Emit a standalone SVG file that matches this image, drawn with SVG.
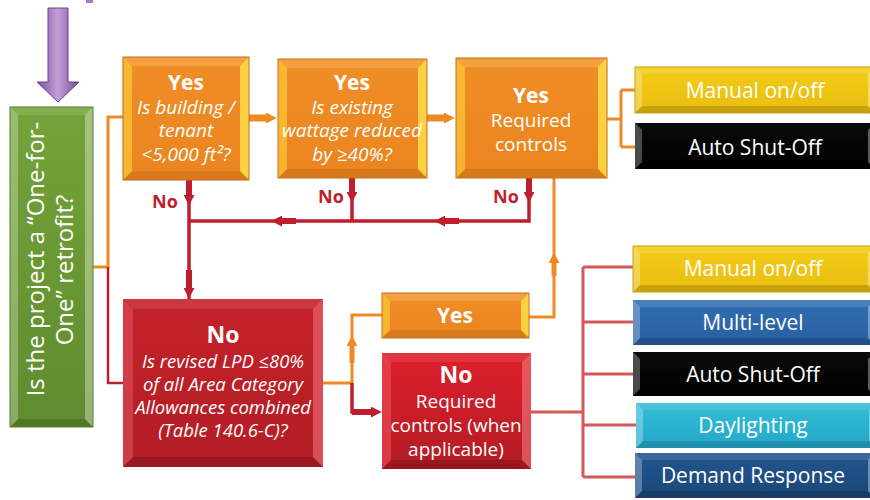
<svg xmlns="http://www.w3.org/2000/svg" width="870" height="500" viewBox="0 0 870 500">
<defs>
<style>
.t{font-family:"Open Sans","Noto Sans","Liberation Sans",sans-serif;fill:#fff;text-anchor:middle}
.b{font-weight:bold}
.i{font-style:italic}
.no{font-family:"Open Sans","Noto Sans","Liberation Sans",sans-serif;font-weight:bold;fill:#BE1E2D;font-size:18px}
.bt{fill:#fff;opacity:.12}
.bb{fill:#000;opacity:.15}
.bl{fill:#fff;opacity:.28}
.br{fill:#fff;opacity:.35}
.oy{fill:#FFD43A;opacity:.6}
.oyr{fill:#FFE24A;opacity:.8}
.edge{fill:none;stroke-width:1}
.co{fill:none;stroke:#EE8A24;stroke-width:3}
.cr{fill:none;stroke:#BE1E2D;stroke-width:3.5}
.cs{fill:none;stroke:#D4575A;stroke-width:3}
.tkO{fill:none;stroke:#EE8A24;stroke-width:6;marker-end:url(#aO)}
.tkR{fill:none;stroke:#BE1E2D;stroke-width:6;marker-end:url(#aR)}
</style>
<linearGradient id="gO" x1="0" y1="0" x2="0" y2="1"><stop offset="0" stop-color="#F08E26"/><stop offset="1" stop-color="#EA8420"/></linearGradient>
<linearGradient id="gR" x1="0" y1="0" x2="0" y2="1"><stop offset="0" stop-color="#C4212A"/><stop offset="1" stop-color="#B31D25"/></linearGradient>
<linearGradient id="gR2" x1="0" y1="0" x2="0" y2="1"><stop offset="0" stop-color="#DF1F2B"/><stop offset="1" stop-color="#B21C25"/></linearGradient>
<linearGradient id="gG" x1="0" y1="0" x2="0" y2="1"><stop offset="0" stop-color="#74A33A"/><stop offset="1" stop-color="#5F8C2E"/></linearGradient>
<linearGradient id="gY" x1="0" y1="0" x2="0" y2="1"><stop offset="0" stop-color="#F4CC17"/><stop offset="1" stop-color="#E9BD10"/></linearGradient>
<linearGradient id="gB" x1="0" y1="0" x2="0" y2="1"><stop offset="0" stop-color="#316FB3"/><stop offset="1" stop-color="#285FA0"/></linearGradient>
<linearGradient id="gC" x1="0" y1="0" x2="0" y2="1"><stop offset="0" stop-color="#33BCD8"/><stop offset="1" stop-color="#24A9C8"/></linearGradient>
<linearGradient id="gD" x1="0" y1="0" x2="0" y2="1"><stop offset="0" stop-color="#22558F"/><stop offset="1" stop-color="#1A4778"/></linearGradient>
<linearGradient id="gK" x1="0" y1="0" x2="0" y2="1"><stop offset="0" stop-color="#0A0A0A"/><stop offset="1" stop-color="#000"/></linearGradient>
<linearGradient id="gP" x1="0" y1="0" x2="1" y2="0"><stop offset="0" stop-color="#7E4E9E"/><stop offset=".5" stop-color="#C3A0D6"/><stop offset="1" stop-color="#7A4A9A"/></linearGradient>
<marker id="aO" viewBox="0 0 10 10" refX="2" refY="5" markerWidth="11" markerHeight="11" markerUnits="userSpaceOnUse" orient="auto"><path d="M0,0L10,5L0,10z" fill="#EE8A24"/></marker>
<marker id="aR" viewBox="0 0 10 10" refX="2" refY="5" markerWidth="11" markerHeight="11" markerUnits="userSpaceOnUse" orient="auto"><path d="M0,0L10,5L0,10z" fill="#BE1E2D"/></marker>
</defs>
<rect width="870" height="500" fill="#fff"/>

<g id="start-arrow">
<rect x="86" y="0" width="7" height="3" fill="#A67BC0"/>
<path d="M48,8H68V82H79L58,102L37,82H48Z" fill="url(#gP)" stroke="#6E3F8E" stroke-width="1"/>
</g>

<g id="connectors">
<path class="co" d="M93,267H108V117H123"/>
<path class="cr" style="stroke-width:2.5" d="M108,267V383H123"/>
<path class="tkO" style="stroke-width:7" d="M249,118H268"/>
<path class="tkO" style="stroke-width:7" d="M427,118H446"/>
<path class="co" d="M607,119H621M621,90V147M621,90H635M621,147H635"/>
<path class="cr" d="M189,180V299"/>
<path class="tkR" d="M189,180V197"/>
<path class="tkR" d="M189,270V290"/>
<path class="cr" d="M352,178V221"/>
<path class="tkR" d="M352,178V194"/>
<path class="cr" d="M529,178V221H189"/>
<path class="tkR" d="M529,178V194"/>
<path class="tkR" d="M296,221H280"/>
<path class="tkR" d="M459,221H443"/>
<path class="co" d="M554,178V317H529"/>
<path class="tkO" style="stroke-width:5" d="M554,276V261"/>
<path class="co" d="M323,383H352V315H382"/>
<path class="tkO" style="stroke-width:5" d="M352,363V344"/>
<path class="cr" d="M352,383V412H373"/>
<path class="tkR" d="M352,412H373"/>
<path class="cs" d="M531,412H583M583,267V477M583,267H633M583,322H633M583,374H633M583,425H636M583,477H635"/>
</g>

<g id="no-labels">
<text class="no" x="152" y="208">No</text>
<text class="no" x="318" y="203">No</text>
<text class="no" x="493" y="203">No</text>
</g>

<g id="green" transform="translate(10,107)">
<rect width="83" height="320" fill="url(#gG)"/>
<polygon class="bt" points="0,0 83,0 75,8 8,8"/><polygon class="bb" points="0,320 83,320 75,312 8,312"/>
<polygon class="bl" points="0,0 8,8 8,312 0,320"/><polygon class="br" points="83,0 75,8 75,312 83,320"/>
<rect width="83" height="320" class="edge" stroke="#557E28"/>
<text class="t" transform="rotate(-90)" x="-152" y="34" font-size="24">Is the project a “One-for-</text>
<text class="t" transform="rotate(-90)" x="-163" y="63" font-size="24">One” retrofit?</text>
</g>

<g id="b1" transform="translate(123,57)">
<rect width="126" height="123" fill="url(#gO)"/>
<polygon fill="#F3A040" points="0,0 126,0 117,9 9,9"/><polygon fill="#D87A1C" points="0,123 126,123 117,114 9,114"/>
<polygon class="oy" points="0,0 9,9 9,114 0,123"/><polygon class="oyr" points="126,0 117,9 117,114 126,123"/>
<rect width="126" height="123" class="edge" stroke="#C26D1A"/>
<text class="t b" x="63" y="33" font-size="21">Yes</text>
<text class="t i" x="63" y="57" font-size="19">Is building /</text>
<text class="t i" x="63" y="80" font-size="19">tenant</text>
<text class="t i" x="63" y="104" font-size="19">&lt;5,000 ft²?</text>
</g>

<g id="b2" transform="translate(278,59)">
<rect width="149" height="119" fill="url(#gO)"/>
<polygon fill="#F3A040" points="0,0 149,0 140,9 9,9"/><polygon fill="#D87A1C" points="0,119 149,119 140,110 9,110"/>
<polygon class="oy" points="0,0 9,9 9,110 0,119"/><polygon class="oyr" points="149,0 140,9 140,110 149,119"/>
<rect width="149" height="119" class="edge" stroke="#C26D1A"/>
<text class="t b" x="74" y="31" font-size="21">Yes</text>
<text class="t i" x="74" y="55" font-size="19">Is existing</text>
<text class="t i" x="74" y="78" font-size="19">wattage reduced</text>
<text class="t i" x="74" y="102" font-size="19">by ≥40%?</text>
</g>

<g id="b3" transform="translate(456,58)">
<rect width="151" height="120" fill="url(#gO)"/>
<polygon fill="#F3A040" points="0,0 151,0 142,9 9,9"/><polygon fill="#D87A1C" points="0,120 151,120 142,111 9,111"/>
<polygon class="oy" points="0,0 9,9 9,111 0,120"/><polygon class="oyr" points="151,0 142,9 142,111 151,120"/>
<rect width="151" height="120" class="edge" stroke="#C26D1A"/>
<text class="t b" x="75" y="45" font-size="21">Yes</text>
<text class="t" x="75" y="69" font-size="19">Required</text>
<text class="t" x="75" y="93" font-size="19">controls</text>
</g>

<g id="top-manual" transform="translate(635,67)">
<rect width="240" height="46" fill="url(#gY)"/>
<polygon class="bt" points="0,0 240,0 233,7 7,7"/><polygon class="bb" points="0,46 240,46 233,39 7,39"/>
<polygon class="bl" points="0,0 7,7 7,39 0,46"/><polygon class="br" points="240,0 233,7 233,39 240,46"/>
<rect width="240" height="46" class="edge" stroke="#C9A20C"/>
<text class="t" x="120" y="31" font-size="21">Manual on/off</text>
</g>

<g id="top-auto" transform="translate(635,123)">
<rect width="240" height="46" fill="url(#gK)"/>
<polygon class="bl" points="0,0 7,7 7,39 0,46"/><polygon class="br" points="240,0 233,7 233,39 240,46"/>
<text class="t" x="120" y="32" font-size="21">Auto Shut-Off</text>
</g>

<g id="lpd" transform="translate(123,299)">
<rect width="200" height="168" fill="url(#gR)"/>
<polygon fill="#fff" opacity=".1" points="0,0 200,0 190,10 10,10"/><polygon class="bb" points="0,168 200,168 190,158 10,158"/>
<polygon fill="#E0505A" opacity=".6" points="0,0 10,10 10,158 0,168"/><polygon fill="#F07078" opacity=".6" points="200,0 190,10 190,158 200,168"/>
<text class="t b" x="100" y="44" font-size="23">No</text>
<text class="t i" x="100" y="69" font-size="18.5">Is revised LPD ≤80%</text>
<text class="t i" x="100" y="92" font-size="18.5">of all Area Category</text>
<text class="t i" x="100" y="115" font-size="18.5">Allowances combined</text>
<text class="t i" x="100" y="138" font-size="18.5">(Table 140.6-C)?</text>
</g>

<g id="yes-small" transform="translate(382,293)">
<rect width="147" height="45" fill="url(#gO)"/>
<polygon fill="#F3A040" points="0,0 147,0 139,8 8,8"/><polygon fill="#D87A1C" points="0,45 147,45 139,37 8,37"/>
<polygon class="oy" points="0,0 8,8 8,37 0,45"/><polygon class="oyr" points="147,0 139,8 139,37 147,45"/>
<rect width="147" height="45" class="edge" stroke="#C26D1A"/>
<text class="t b" x="73" y="30" font-size="21">Yes</text>
</g>

<g id="no-box" transform="translate(382,353)">
<rect width="149" height="116" fill="url(#gR2)"/>
<polygon fill="#fff" opacity=".1" points="0,0 149,0 140,9 9,9"/><polygon class="bb" points="0,116 149,116 140,107 9,107"/>
<polygon fill="#F0505A" opacity=".6" points="0,0 9,9 9,107 0,116"/><polygon fill="#F47880" opacity=".6" points="149,0 140,9 140,107 149,116"/>
<text class="t b" x="74" y="30" font-size="23">No</text>
<text class="t" x="74" y="55" font-size="19">Required</text>
<text class="t" x="74" y="79" font-size="19">controls (when</text>
<text class="t" x="74" y="103" font-size="19">applicable)</text>
</g>

<g id="manual" transform="translate(633,246)">
<rect width="242" height="46" fill="url(#gY)"/>
<polygon class="bt" points="0,0 242,0 235,7 7,7"/><polygon class="bb" points="0,46 242,46 235,39 7,39"/>
<polygon class="bl" points="0,0 7,7 7,39 0,46"/><polygon class="br" points="242,0 235,7 235,39 242,46"/>
<rect width="242" height="46" class="edge" stroke="#C9A20C"/>
<text class="t" x="120" y="30" font-size="21">Manual on/off</text>
</g>

<g id="multi" transform="translate(633,300)">
<rect width="242" height="45" fill="url(#gB)"/>
<polygon class="bt" points="0,0 242,0 235,7 7,7"/><polygon class="bb" points="0,45 242,45 235,38 7,38"/>
<polygon class="bl" points="0,0 7,7 7,38 0,45"/><polygon class="br" points="242,0 235,7 235,38 242,45"/>
<text class="t" x="120" y="30" font-size="21">Multi-level</text>
</g>

<g id="auto" transform="translate(633,352)">
<rect width="242" height="44" fill="url(#gK)"/>
<polygon class="bl" points="0,0 7,7 7,37 0,44"/><polygon class="br" points="242,0 235,7 235,37 242,44"/>
<text class="t" x="120" y="30" font-size="21">Auto Shut-Off</text>
</g>

<g id="daylighting" transform="translate(636,403)">
<rect width="240" height="45" fill="url(#gC)"/>
<polygon class="bt" points="0,0 240,0 233,7 7,7"/><polygon class="bb" points="0,45 240,45 233,38 7,38"/>
<polygon class="bl" points="0,0 7,7 7,38 0,45"/><polygon class="br" points="240,0 233,7 233,38 240,45"/>
<text class="t" x="117" y="30" font-size="21">Daylighting</text>
</g>

<g id="demand" transform="translate(635,453)">
<rect width="240" height="45" fill="url(#gD)"/>
<polygon class="bt" points="0,0 240,0 233,7 7,7"/><polygon class="bb" points="0,45 240,45 233,38 7,38"/>
<polygon class="bl" points="0,0 7,7 7,38 0,45"/><polygon class="br" points="240,0 233,7 233,38 240,45"/>
<text class="t" x="118" y="30" font-size="21">Demand Response</text>
</g>
</svg>
